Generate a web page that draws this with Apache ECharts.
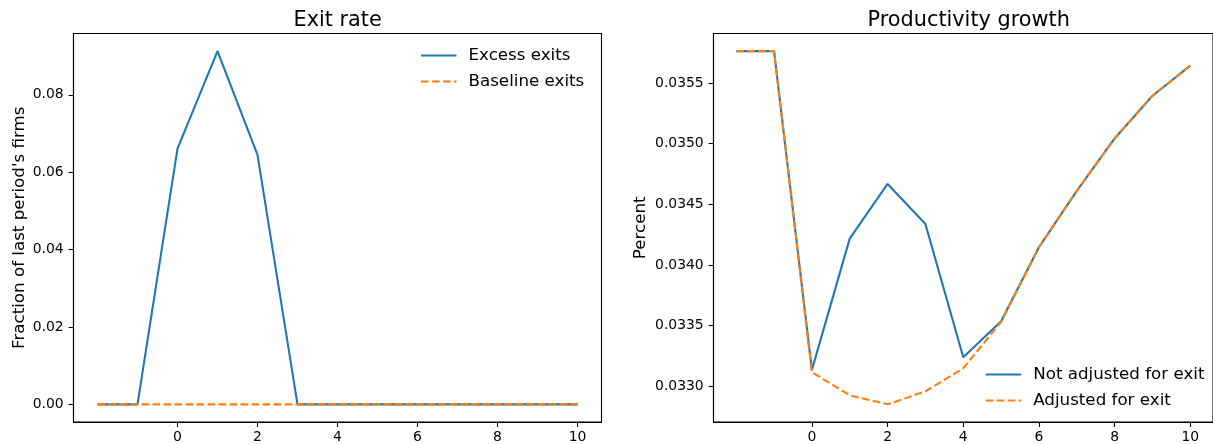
<!DOCTYPE html>
<html>
<head>
<meta charset="utf-8">
<style>
  html, body { margin: 0; padding: 0; background: #fff; }
  #chart { width: 1213px; height: 444px; }
</style>
<script src="https://cdn.jsdelivr.net/npm/echarts@6/dist/echarts.min.js"></script>
</head>
<body>
<div id="chart"></div>
<script>
// Periods relative to the shock
const periods = [-2, -1, 0, 1, 2, 3, 4, 5, 6, 7, 8, 9, 10];

// Exit rate (fraction of last period's firms)
const excessExits   = [0, 0, 0.0661, 0.0913, 0.0645, 0, 0, 0, 0, 0, 0, 0, 0];
const baselineExits = [0, 0, 0, 0, 0, 0, 0, 0, 0, 0, 0, 0, 0];

// Productivity growth (percent)
const notAdjusted = [0.035763, 0.035763, 0.033134, 0.034217, 0.034668, 0.034337, 0.033238,
                     0.033536, 0.034146, 0.034610, 0.035043, 0.035395, 0.035644];
const adjusted    = [0.035763, 0.035763, 0.033115, 0.032924, 0.032850, 0.032957, 0.033148,
                     0.033530, 0.034146, 0.034610, 0.035043, 0.035395, 0.035644];

// Tick positions
const xTicks = [0, 2, 4, 6, 8, 10];
const exitTicks = [0, 0.02, 0.04, 0.06, 0.08];
const prodTicks = [0.0330, 0.0335, 0.0340, 0.0345, 0.0350, 0.0355];

const FONT = '"DejaVu Sans", sans-serif';
const BLUE = '#1f77b4';
const ORANGE = '#ff7f0e';
const LW = 2.08;
const DASH = [7.7, 3.3];

// autoscale with 5% padding on each side
function padded(values) {
  const lo = Math.min.apply(null, values), hi = Math.max.apply(null, values);
  const m = (hi - lo) * 0.05;
  return [lo - m, hi + m];
}
const xr = padded(periods);
const yr0 = padded(excessExits.concat(baselineExits));
const yr1 = padded(notAdjusted.concat(adjusted));

const pairs = (ys) => periods.map((x, i) => [x, ys[i]]);

function xAxis(gridIndex) {
  return {
    type: 'value', gridIndex, min: xr[0], max: xr[1],
    splitLine: { show: false },
    axisLine: { show: true, onZero: false, lineStyle: { color: '#000', width: 1.1 } },
    axisTick: { show: true, customValues: xTicks, length: 4.9, lineStyle: { color: '#000', width: 1.1 } },
    axisLabel: { customValues: xTicks, color: '#000', fontSize: 13.9, fontFamily: FONT, margin: 8 }
  };
}
function yAxis(gridIndex, range, ticks, digits, name, gap) {
  return {
    type: 'value', gridIndex, min: range[0], max: range[1],
    splitLine: { show: false },
    axisLine: { show: true, onZero: false, lineStyle: { color: '#000', width: 1.1 } },
    axisTick: { show: true, customValues: ticks, length: 4.9, lineStyle: { color: '#000', width: 1.1 } },
    axisLabel: {
      customValues: ticks, color: '#000', fontSize: 13.9, fontFamily: FONT, margin: 9.8,
      formatter: (v) => v.toFixed(digits)
    },
    name, nameLocation: 'middle', nameRotate: 90, nameGap: gap,
    nameTextStyle: { color: '#000', fontSize: 16.7, fontFamily: FONT }
  };
}

function line(name, ys, xi, color, dashed, z) {
  return {
    name, type: 'line', xAxisIndex: xi, yAxisIndex: xi,
    data: pairs(ys), symbol: 'none', showSymbol: false, z,
    lineStyle: { color, width: LW, type: dashed ? DASH : 'solid', cap: 'butt' },
    itemStyle: { color },
    emphasis: { disabled: true }, animation: false
  };
}

function legend(x, y, names) {
  return {
    orient: 'vertical', left: x, top: y, padding: 0,
    data: names, itemWidth: 35.5, itemHeight: 17, itemGap: 9,
    selectedMode: false,
    itemStyle: { opacity: 0 },
    textStyle: { color: '#000', fontSize: 16.7, fontFamily: FONT, padding: [0, 0, 0, 7], lineHeight: 17 }
  };
}

const chart = echarts.init(document.getElementById('chart'), null, { renderer: 'canvas' });
chart.setOption({
  animation: false,
  backgroundColor: '#fff',
  grid: [
    { left: 73.5, top: 33.5, width: 528, height: 391, show: true, borderColor: '#000', borderWidth: 1.1, containLabel: false },
    { left: 713.5, top: 33.5, width: 510.4, height: 391, show: true, borderColor: '#000', borderWidth: 1.1, containLabel: false }
  ],
  xAxis: [xAxis(0), xAxis(1)],
  yAxis: [
    yAxis(0, yr0, exitTicks, 2, "Fraction of last period's firms", 45),
    yAxis(1, yr1, prodTicks, 4, 'Percent', 64)
  ],
  legend: [
    legend(420, 47, ['Excess exits', 'Baseline exits']),
    legend(984.7, 366, ['Not adjusted for exit', 'Adjusted for exit'])
  ],
  graphic: [
    { type: 'text', x: 337.7, y: 21, style: { text: 'Exit rate', font: '20.8px ' + FONT, fill: '#000', align: 'center', verticalAlign: 'middle' } },
    { type: 'text', x: 968.7, y: 21, style: { text: 'Productivity growth', font: '20.8px ' + FONT, fill: '#000', align: 'center', verticalAlign: 'middle' } }
  ],
  series: [
    line('Excess exits', excessExits, 0, BLUE, false, 2),
    line('Baseline exits', baselineExits, 0, ORANGE, true, 3),
    line('Not adjusted for exit', notAdjusted, 1, BLUE, false, 2),
    line('Adjusted for exit', adjusted, 1, ORANGE, true, 3)
  ]
});
</script>
</body>
</html>
